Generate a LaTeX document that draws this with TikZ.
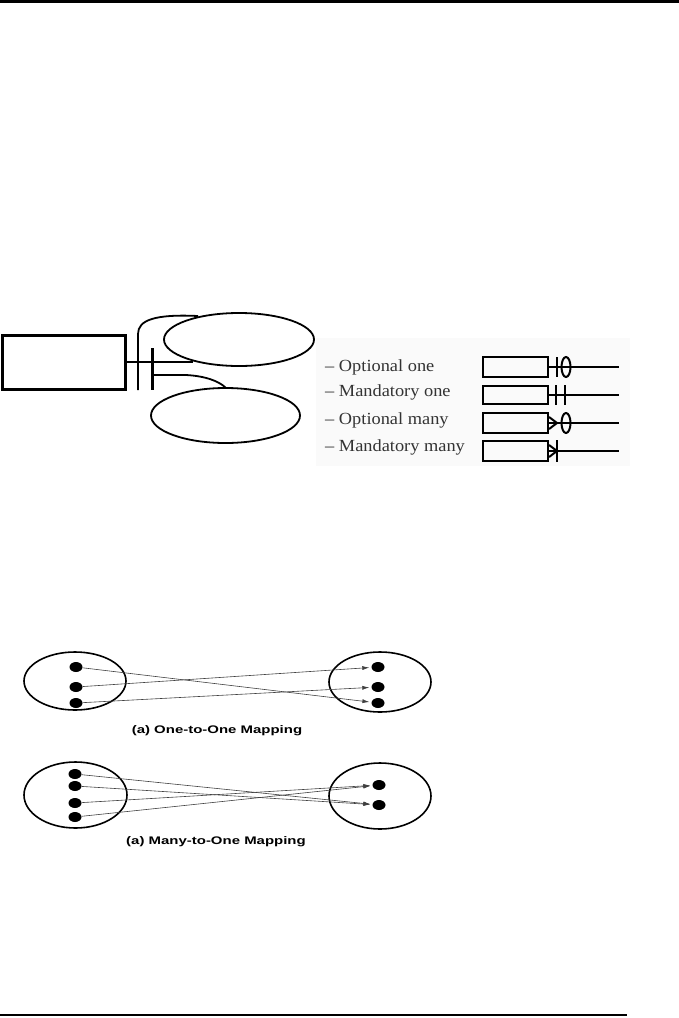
\documentclass[tikz,border=0pt]{standalone}
\usepackage{fontspec}
\setmainfont{Liberation Serif}
\newfontfamily\capfont{Liberation Sans}
\usetikzlibrary{shapes.geometric,arrows.meta}
\tikzset{
  ent/.style={draw,line width=3pt,minimum width=123pt,minimum height=54pt,inner sep=0pt},
  attr/.style={draw,ellipse,line width=1.8pt,inner sep=0pt},
  lbox/.style={draw,line width=2.2pt,minimum width=65pt,minimum height=20pt,inner sep=0pt},
  lline/.style={line width=2pt},
  ltext/.style={anchor=west,inner sep=0pt,text=black!80,font=\fontsize{17}{20}\selectfont},
  setell/.style={draw,ellipse,line width=1.6pt,inner sep=0pt},
  dot/.style={fill=black,ellipse,minimum width=13pt,minimum height=10pt,inner sep=0pt},
  map/.style={draw=black!75,line width=0.6pt,-{Latex[length=7pt,width=4pt]},shorten >=2pt},
  captext/.style={inner sep=0pt,font=\capfont\bfseries\fontsize{11}{12}\selectfont},
  pagerule/.style={line width=2.6pt}
}
\begin{document}
\begin{tikzpicture}[x=1pt,y=-1pt]
\useasboundingbox (0,0) rectangle (679,1018);
% page rules
\coordinate (tl) at (0,1.3);
\coordinate (tr) at (679,1.3);
\coordinate (bl) at (0,1015);
\coordinate (br) at (627,1015);
\draw[pagerule] (tl) -- (tr);
\draw[pagerule] (bl) -- (br);

% ---------- entity with attributes ----------
\node[ent] (e) at (63.5,362) {};
\node[attr,minimum width=150pt,minimum height=53pt] (a1) at (239,339.5) {};
\node[attr,minimum width=149pt,minimum height=55pt] (a2) at (225.5,415.5) {};
\coordinate (j1) at (193,362);
\draw[line width=1.8pt] (e.east |- j1) -- (j1);
\coordinate (b1top) at (138,334);
\coordinate (b1bot) at (138,390);
\coordinate (c1end) at (198,316);
\draw[line width=1.8pt] (b1bot) -- (b1top) .. controls (138,320) and (155,314) .. (c1end);
\coordinate (b2top) at (152,348);
\coordinate (b2bot) at (152,390);
\draw[line width=3pt] (b2top) -- (b2bot);
\coordinate (c2s) at (152,375);
\coordinate (c2e) at (226,388);
\draw[line width=1.8pt] (c2s) -- (186,375) .. controls (205,376) and (219,381) .. (c2e);

% ---------- legend ----------
\fill[black!2] (316,338) rectangle (630,466);
\node[ltext] (t1) at (325,367) {\scalebox{1.08}[1]{– Optional one}};
\node[ltext] (t2) at (325,392) {\scalebox{1.08}[1]{– Mandatory one}};
\node[ltext] (t3) at (325,420) {\scalebox{1.08}[1]{– Optional many}};
\node[ltext] (t4) at (325,447) {\scalebox{1.08}[1]{– Mandatory many}};

\node[lbox] (r1) at (515.5,367) {};
\node[lbox,minimum height=18pt] (r2) at (515.5,395) {};
\node[lbox] (r3) at (515.5,423) {};
\node[lbox] (r4) at (515.5,451) {};
\coordinate (e1) at (619,367);
\coordinate (e2) at (619,395);
\coordinate (e3) at (619,423);
\coordinate (e4) at (619,451);
\draw[lline] (r1.east) -- (e1);
\draw[lline] (r2.east) -- (e2);
\draw[lline] (r3.east) -- (e3);
\draw[lline] (r4.east) -- (e4);
% optional one
\draw[lline] (557,357) -- (557,377);
\draw[lline] (566,367) ellipse [x radius=4.5pt,y radius=10pt];
% mandatory one
\draw[lline] (556,385) -- (556,405);
\draw[lline] (565,385) -- (565,405);
% optional many
\draw[lline] ([yshift=-6pt]r3.east) -- (557,423) -- ([yshift=6pt]r3.east);
\draw[lline] (566,423) ellipse [x radius=4.5pt,y radius=10pt];
% mandatory many
\draw[lline] ([yshift=-6pt]r4.east) -- (557,451) -- ([yshift=6pt]r4.east);
\draw[lline] (557,440) -- (557,462);

% ---------- one-to-one mapping ----------
\node[setell,minimum width=102pt,minimum height=58pt] (s1) at (75,681) {};
\node[setell,minimum width=102pt,minimum height=60pt] (s2) at (380,682) {};
\node[dot] (p1) at (76,667) {};
\node[dot] (p2) at (76,687) {};
\node[dot] (p3) at (76,703) {};
\node[dot] (q1) at (378,667) {};
\node[dot] (q2) at (378,687) {};
\node[dot] (q3) at (378,703) {};
\draw[map] (p1) -- (q3);
\draw[map] (p2) -- (q1);
\draw[map] (p3) -- (q2);
\node[captext] (cap1) at (217,731) {\scalebox{1.36}[1]{(a) One-to-One Mapping}};

% ---------- many-to-one mapping ----------
\node[setell,minimum width=103pt,minimum height=66pt] (u1) at (75.5,795) {};
\node[setell,minimum width=102pt,minimum height=66pt] (u2) at (380,796) {};
\node[dot] (m1) at (75,774) {};
\node[dot] (m2) at (75,786) {};
\node[dot] (m3) at (75,803) {};
\node[dot] (m4) at (75,817) {};
\node[dot] (n1) at (379,785) {};
\node[dot] (n2) at (379,805) {};
\draw[map] (m1) -- (n2);
\draw[map] (m2) -- (n2);
\draw[map] (m3) -- (n1);
\draw[map] (m4) -- (n1);
\node[captext] (cap2) at (216,842) {\scalebox{1.36}[1]{(a) Many-to-One Mapping}};
\end{tikzpicture}
\end{document}
